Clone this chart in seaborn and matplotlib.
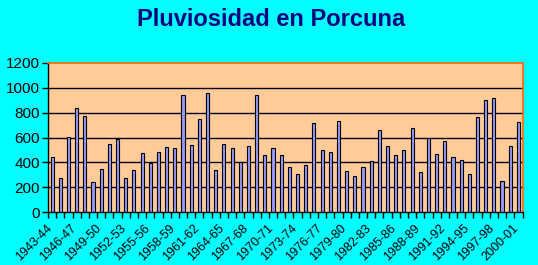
import matplotlib
matplotlib.use("Agg")
import matplotlib.pyplot as plt
import matplotlib.transforms as mtransforms
import seaborn as sns
import pandas as pd

seasons = [f"{y}-{str(y + 1)[-2:]}" for y in range(1943, 2001)]
rain = [443, 277, 604, 838, 773, 242, 349, 548, 588, 274,
        338, 475, 395, 483, 524, 515, 942, 540, 749, 958,
        338, 548, 515, 403, 532, 942, 459, 515, 459, 362,
        306, 379, 717, 499, 483, 733, 330, 290, 362, 411,
        660, 532, 459, 499, 677, 322, 596, 467, 572, 443,
        419, 306, 765, 902, 918, 250, 532, 725]
yticks = [0, 200, 400, 600, 800, 1000, 1200]

df = pd.DataFrame({"season": seasons, "rain": rain})

sns.set_theme(style="white")
plt.rcParams['font.family'] = ['Liberation Sans', 'DejaVu Sans']

fig = plt.figure(figsize=(5.38, 2.65), dpi=100, facecolor="#00FFFF")
ax = fig.add_axes([48 / 538, 1 - 212 / 265, 474.5 / 538, 149 / 265])
ax.set_facecolor("#FFCC99")

sns.barplot(data=df, x="season", y="rain", ax=ax, color="#9999FF",
            saturation=1, width=0.38, edgecolor="black", linewidth=0.8)

ax.set_xlim(-0.5, len(seasons) - 0.5)
ax.set_ylim(0, 1200)
ax.set_yticks(yticks)
ax.set_yticklabels([str(v) for v in yticks], fontsize=11, color="black")
for v in yticks[1:-1]:
    ax.axhline(v, color="black", linewidth=1, zorder=0.5)

idx = list(range(0, len(seasons), 3))
ax.set_xticks(idx)
ax.set_xticklabels([seasons[i] for i in idx], rotation=45, ha="right",
                   rotation_mode="anchor", fontsize=9, color="black")
ax.tick_params(axis="x", which="major", length=0, pad=4)
offset = mtransforms.ScaledTranslation(-6 / 100, -5 / 100, fig.dpi_scale_trans)
for lab in ax.get_xticklabels():
    lab.set_transform(lab.get_transform() + offset)
ax.set_xticks([i - 0.5 for i in range(len(seasons) + 1)], minor=True)
ax.tick_params(axis="x", which="minor", length=4, width=1, color="black",
               direction="out", bottom=True)
ax.tick_params(axis="y", which="major", length=4, width=1, color="black",
               direction="out", left=True, pad=2)
ax.set_xlabel("")
ax.set_ylabel("")

for s in ["left", "bottom"]:
    ax.spines[s].set_color("black")
    ax.spines[s].set_linewidth(1)
for s in ["top", "right"]:
    ax.spines[s].set_color("#FF6600")
    ax.spines[s].set_linewidth(1.2)
    ax.spines[s].set_visible(True)

fig.text(271 / 538, 1 - 19 / 265, "Pluviosidad en Porcuna", ha="center",
         va="center", fontsize=17, fontweight="bold", color="#000080")

fig.savefig("out.png", dpi=100, facecolor=fig.get_facecolor())
